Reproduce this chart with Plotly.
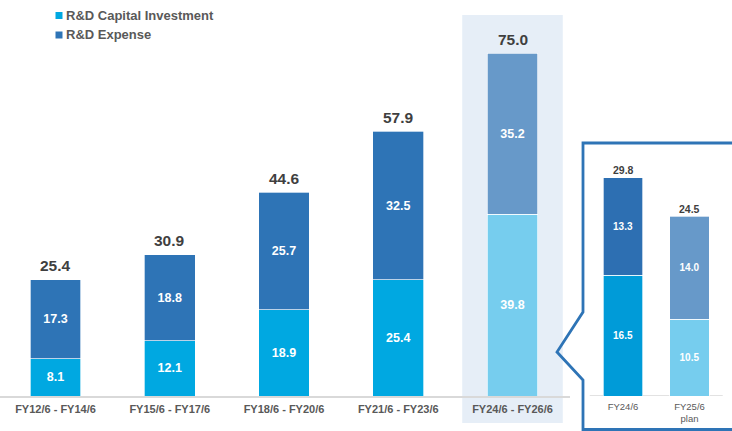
import plotly.graph_objects as go

# Three-year periods (main chart)
periods = ["FY12/6 - FY14/6", "FY15/6 - FY17/6", "FY18/6 - FY20/6",
           "FY21/6 - FY23/6", "FY24/6 - FY26/6"]
capital = [8.1, 12.1, 18.9, 25.4, 39.8]
expense = [17.3, 18.8, 25.7, 32.5, 35.2]
totals = [25.4, 30.9, 44.6, 57.9, 75.0]

# Single years (detail panel)
years = ["FY24/6", "FY25/6<br>plan"]
capital_y = [16.5, 10.5]
expense_y = [13.3, 14.0]
totals_y = [29.8, 24.5]

W, H = 732, 431
FONT = "Arial, Liberation Sans, sans-serif"

CAP = "#00a8e1"
EXP = "#2e74b6"
CAP_PLAN = "#76cdee"
EXP_PLAN = "#6799c9"
CAP_Y24 = "#009bd8"
EXP_Y24 = "#2d6fb2"

cap_colors = [CAP] * 4 + [CAP_PLAN]
exp_colors = [EXP] * 4 + [EXP_PLAN]


def px_x(x):
    return x / W


def px_y(y):
    return 1 - y / H


fig = go.Figure()

seg_line = dict(color="rgba(255,255,255,0.85)", width=0.8)

# main stacked bars
fig.add_trace(go.Bar(
    x=periods, y=capital, name="R&D Capital Investment",
    marker=dict(color=cap_colors, line=seg_line),
    width=0.446, texttemplate="%{y:.1f}", textposition="inside",
    insidetextanchor="middle",
    textfont=dict(family=FONT, size=12.5, color="white", weight="bold"),
    showlegend=False, xaxis="x", yaxis="y"))
fig.add_trace(go.Bar(
    x=periods, y=expense, name="R&D Expense",
    marker=dict(color=exp_colors, line=seg_line),
    width=0.446, texttemplate="%{y:.1f}", textposition="inside",
    insidetextanchor="middle",
    textfont=dict(family=FONT, size=12.5, color="white", weight="bold"),
    showlegend=False, xaxis="x", yaxis="y"))

# detail panel stacked bars
fig.add_trace(go.Bar(
    x=years, y=capital_y, marker=dict(color=[CAP_Y24, CAP_PLAN], line=seg_line),
    width=0.6, texttemplate="%{y:.1f}", textposition="inside",
    insidetextanchor="middle",
    textfont=dict(family=FONT, size=10, color="white", weight="bold"),
    showlegend=False, xaxis="x2", yaxis="y2"))
fig.add_trace(go.Bar(
    x=years, y=expense_y, marker=dict(color=[EXP_Y24, EXP_PLAN], line=seg_line),
    width=0.6, texttemplate="%{y:.1f}", textposition="inside",
    insidetextanchor="middle",
    textfont=dict(family=FONT, size=10, color="white", weight="bold"),
    showlegend=False, xaxis="x2", yaxis="y2"))

base_y = 396
y_domain = [(H - base_y) / H, 1]

shapes = [
    # highlight behind the plan period
    dict(type="rect", xref="x", yref="paper", x0=3.56, x1=4.44,
         y0=px_y(423), y1=px_y(15), fillcolor="#e6eef7",
         line=dict(width=0), layer="below"),
    # baseline of the detail panel
    dict(type="line", xref="x2", yref="y2", x0=-0.5, x1=1.5, y0=0, y1=0,
         line=dict(color="#d9d9d9", width=1.5), layer="below"),
    # callout frame around the detail panel
    dict(type="path", xref="paper", yref="paper",
         path=(f"M {px_x(745)},{px_y(143)} L {px_x(583)},{px_y(143)} "
               f"L {px_x(583)},{px_y(312)} L {px_x(557)},{px_y(352)} "
               f"L {px_x(583)},{px_y(380)} L {px_x(583)},{px_y(429.5)} "
               f"L {px_x(745)},{px_y(429.5)}"),
         line=dict(color="#2e74b6", width=2.8)),
    # legend swatches
    dict(type="rect", xref="paper", yref="paper",
         x0=px_x(55.5), x1=px_x(62.5), y0=px_y(19), y1=px_y(12),
         fillcolor=CAP, line=dict(width=0)),
    dict(type="rect", xref="paper", yref="paper",
         x0=px_x(55.5), x1=px_x(62.5), y0=px_y(38.5), y1=px_y(31.5),
         fillcolor=EXP, line=dict(width=0)),
]

annotations = [
    dict(xref="paper", yref="paper", x=px_x(64), y=px_y(15.5),
         xanchor="left", yanchor="middle", showarrow=False,
         text="R&D Capital Investment",
         font=dict(family=FONT, size=13, color="#595959", weight="bold")),
    dict(xref="paper", yref="paper", x=px_x(64), y=px_y(35),
         xanchor="left", yanchor="middle", showarrow=False,
         text="R&D Expense",
         font=dict(family=FONT, size=13, color="#595959", weight="bold")),
]

# stack totals above each bar
for p, t in zip(periods, totals):
    annotations.append(dict(
        xref="x", yref="y", x=p, y=t, yshift=14, showarrow=False,
        xanchor="center", yanchor="middle", text=f"{t:.1f}",
        font=dict(family=FONT, size=15.5, color="#3f3f3f", weight="bold")))
for p, t in zip(years, totals_y):
    annotations.append(dict(
        xref="x2", yref="y2", x=p, y=t, yshift=7.5, showarrow=False,
        xanchor="center", yanchor="middle", text=f"{t:.1f}",
        font=dict(family=FONT, size=10.5, color="#3f3f3f", weight="bold")))

# main axis: category centres at 55.5 px spaced 114.25 px
fig.update_layout(
    width=W, height=H, margin=dict(l=0, r=0, t=0, b=0),
    paper_bgcolor="white", plot_bgcolor="rgba(0,0,0,0)",
    barmode="stack", font=dict(family=FONT),
    shapes=shapes, annotations=annotations,
    xaxis=dict(domain=[0, 570 / W], range=[-55.5 / 114.25, (570 - 55.5) / 114.25],
               showline=True, linecolor="#d9d9d9", linewidth=1.5,
               showgrid=False, zeroline=False, ticks="", ticklabelstandoff=2,
               tickfont=dict(family=FONT, size=11, color="#595959", weight="bold")),
    yaxis=dict(domain=y_domain, range=[0, base_y / 4.57], visible=False,
               showgrid=False, zeroline=False),
    xaxis2=dict(domain=[583 / W, 1], anchor="y2",
                range=[(583 - 623) / 66.5, (732 - 623) / 66.5],
                showline=False, showgrid=False, zeroline=False, ticks="",
                ticklabelstandoff=3,
                tickfont=dict(family=FONT, size=9.5, color="#595959")),
    yaxis2=dict(domain=y_domain, range=[0, base_y / 7.33], visible=False,
                anchor="x2", showgrid=False, zeroline=False),
)

fig.write_html("out.html")
